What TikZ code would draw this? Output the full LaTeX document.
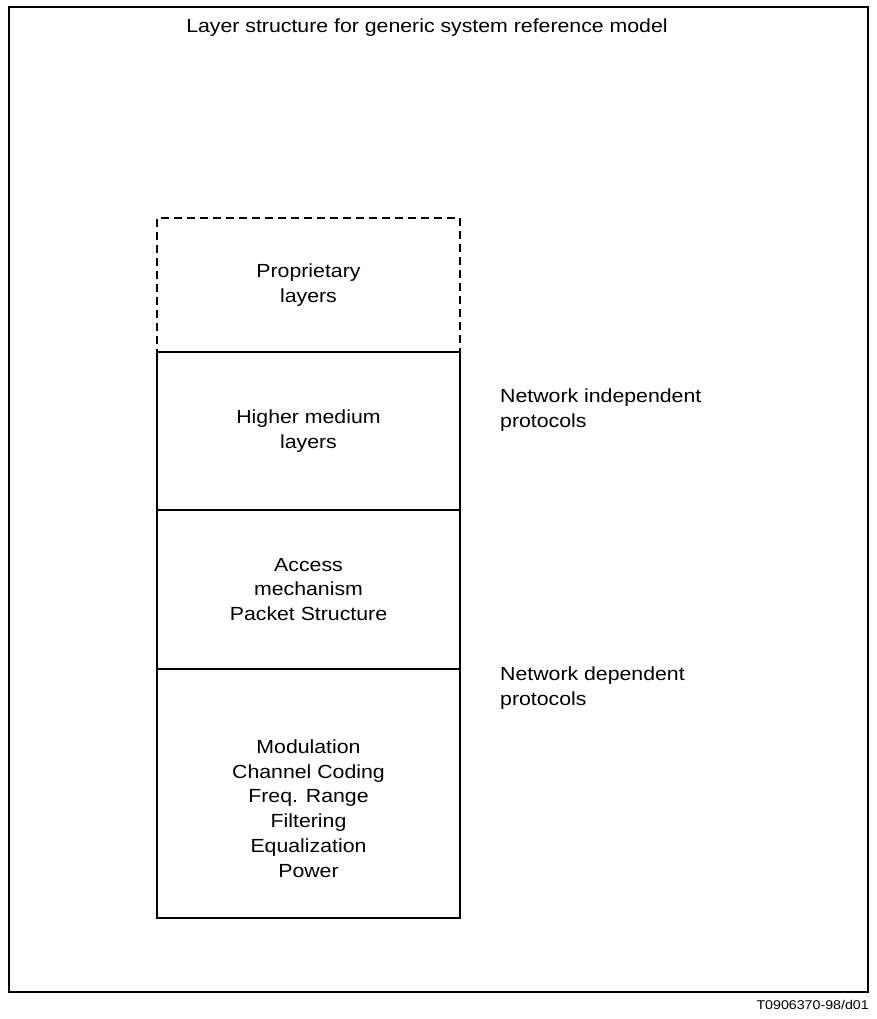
\documentclass[tikz,border=0pt]{standalone}
\usepackage{fontspec}
\setmainfont[FakeStretch=1.12]{Liberation Sans}
\usetikzlibrary{positioning}

\begin{document}
\begin{tikzpicture}[x=1pt,y=-1pt,
    layer/.style={draw, line width=1.5pt, minimum width=303pt, inner sep=0pt, outer sep=0pt, align=center},
    txt/.style={font=\fontsize{19}{24.7}\selectfont, align=center},
    side/.style={font=\fontsize{19}{24.7}\selectfont, align=left, anchor=west, inner sep=0pt}]
    \useasboundingbox (0,0) rectangle (877,1019);
    % outer frame
    \node[draw, line width=1.5pt, outer sep=0pt, minimum width=859pt, minimum height=985pt, anchor=north west] (frame) at (9,7) {};
    \node[txt] (title) at (427,28) {Layer structure for generic system reference model};
    % layer stack
    \node[layer, dash pattern=on 8pt off 5pt, minimum height=134pt, anchor=north, txt] (prop) at (308.5,218) {Proprietary\\layers};
    \node[layer, minimum height=158pt, below=0pt of prop, txt] (higher) {Higher medium\\layers};
    \node[layer, minimum height=159pt, below=0pt of higher, txt] (access) {Access\\mechanism\\Packet Structure};
    \node[layer, minimum height=249pt, below=0pt of access] (phys) {};
    \node[txt] (physlist) at ([yshift=-15pt]phys.center) {Modulation\\Channel Coding\\Freq. Range\\Filtering\\Equalization\\Power};
    % side labels
    \node[side] (indep) at (500,410) {Network independent\\protocols};
    \node[side] (dep) at (500,688) {Network dependent\\protocols};
    \node[font=\fontsize{12.7}{15}\selectfont, anchor=east, inner sep=0pt] (code) at (869,1005) {T0906370-98/d01};
\end{tikzpicture}
\end{document}
